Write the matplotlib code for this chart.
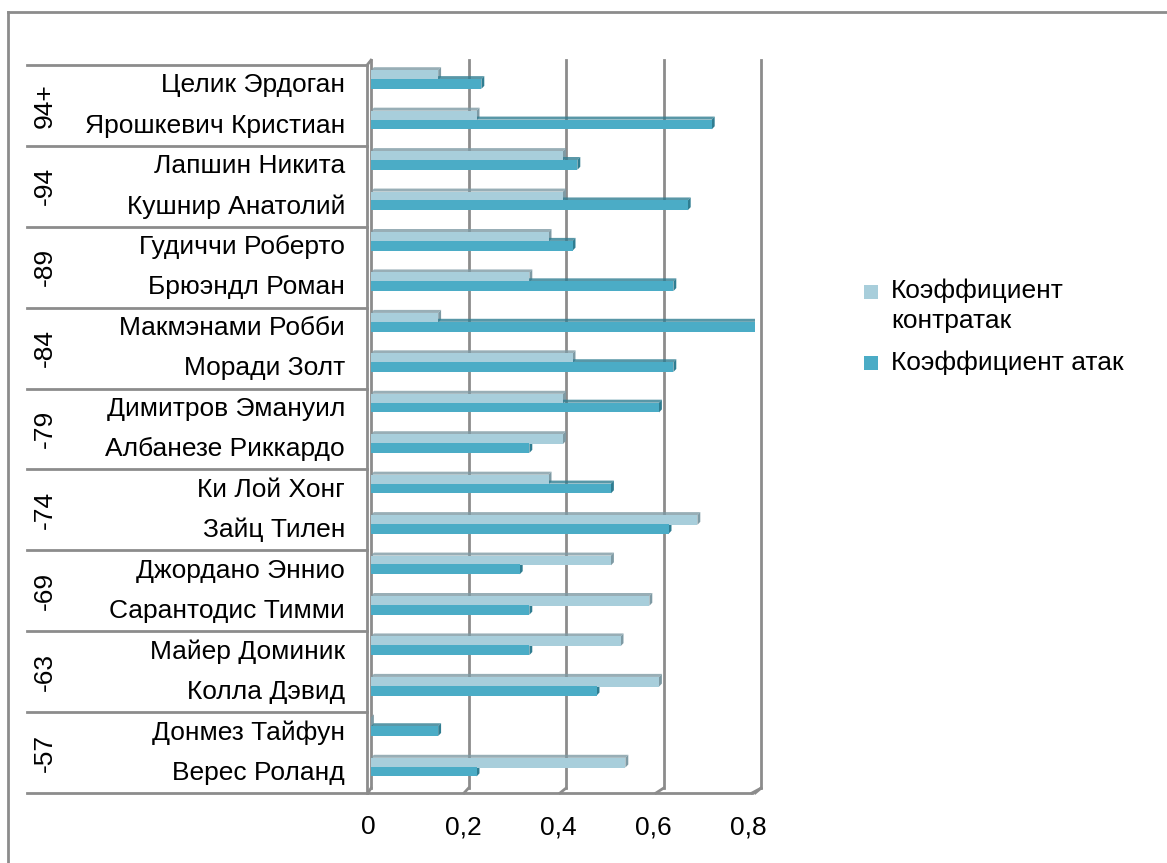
import numpy as np
import matplotlib
matplotlib.use("Agg")
import matplotlib.pyplot as plt
from matplotlib.patches import Polygon, Rectangle
from matplotlib.lines import Line2D

plt.rcParams['font.family'] = ['Liberation Sans', 'DejaVu Sans']

# данные (сверху вниз)
names = ["Целик Эрдоган", "Ярошкевич Кристиан", "Лапшин Никита", "Кушнир Анатолий",
         "Гудиччи Роберто", "Брюэндл Роман", "Макмэнами Робби", "Моради Золт",
         "Димитров Эмануил", "Албанезе Риккардо", "Ки Лой Хонг", "Зайц Тилен",
         "Джордано Эннио", "Сарантодис Тимми", "Майер Доминик", "Колла Дэвид",
         "Донмез Тайфун", "Верес Роланд"]
groups = ["94+", "-94", "-89", "-84", "-79", "-74", "-69", "-63", "-57"]
counter = [0.14, 0.22, 0.40, 0.40, 0.37, 0.33, 0.14, 0.42, 0.40,
           0.40, 0.37, 0.68, 0.50, 0.58, 0.52, 0.60, 0.00, 0.53]
attack = [0.23, 0.71, 0.43, 0.66, 0.42, 0.63, 0.80, 0.63, 0.60,
          0.33, 0.50, 0.62, 0.31, 0.33, 0.33, 0.47, 0.14, 0.22]
series = ["Коэффициент\nконтратак", "Коэффициент атак"]
xticks = [0, 0.2, 0.4, 0.6, 0.8]
xticklabels = ["0", "0,2", "0,4", "0,6", "0,8"]

c_light, c_light_side = "#A8CEDB", "#7E9AA4"
c_dark, c_dark_side = "#4BACC6", "#2F7D91"
grid_c = "#8C8C8C"
FS = 19

W, H = 1167, 863
fig = plt.figure(figsize=(W / 100, H / 100), dpi=100)
ax = fig.add_axes([371 / W, (H - 793) / H, 384 / W, 728 / H])
ax.set_xlim(0, 0.8)
ax.set_ylim(len(names) - 0.5, -0.5)
ax.axis("off")

dx = 0.006   # глубина 3D по x
dy = 0.075   # глубина 3D по y
top_y = -0.62
back_bot = len(names) - 0.5 - 0.12
front_bot = len(names) - 0.5

# сетка (задняя стенка + пол)
for v in xticks:
    xb = v * 390 / 384
    xf = v - 0.00625
    ax.add_line(Line2D([xb, xb], [top_y, back_bot], color=grid_c, lw=2, clip_on=False))
    ax.add_line(Line2D([xb, xf], [back_bot, front_bot], color=grid_c, lw=2, clip_on=False))
ax.add_line(Line2D([-0.00625, 0.8 - 0.00625], [front_bot, front_bot], color=grid_c, lw=2, clip_on=False))
ax.add_line(Line2D([0.8 * 390 / 384 - 0.012, 0.8 * 390 / 384], [front_bot, back_bot],
                   color=grid_c, lw=2, clip_on=False))
# левая стенка
ax.add_line(Line2D([-0.008, -0.008], [-0.5, front_bot], color=grid_c, lw=2, clip_on=False))
ax.add_line(Line2D([-0.008, 0.0], [-0.5, top_y], color=grid_c, lw=2, clip_on=False))

h = 0.24


def bar3d(y, v, face, side):
    if v <= 0:
        ax.add_patch(Polygon([(0, y - h / 2), (dx, y - h / 2 - dy), (dx, y + h / 2 - dy), (0, y + h / 2)],
                             closed=True, facecolor=side, edgecolor="none", zorder=3))
        return
    ax.add_patch(Polygon([(0, y - h / 2), (dx, y - h / 2 - dy), (v + dx, y - h / 2 - dy), (v, y - h / 2)],
                         closed=True, facecolor=side, edgecolor="none", alpha=0.8, zorder=3))
    ax.add_patch(Polygon([(v, y - h / 2), (v + dx, y - h / 2 - dy), (v + dx, y + h / 2 - dy), (v, y + h / 2)],
                         closed=True, facecolor=side, edgecolor="none", zorder=3))
    ax.add_patch(Rectangle((0, y - h / 2), v, h, facecolor=face, edgecolor="none", zorder=4))


for i in range(len(names)):
    bar3d(i - 0.25, counter[i], c_light, c_light_side)
    bar3d(i - 0.03, attack[i], c_dark, c_dark_side)

# подписи оси X (передний край пола)
for v, lab in zip(xticks, xticklabels):
    ax.text(v - 0.00625 - 0.008 * v / 0.8, front_bot + 0.85, lab, ha="center", va="center",
            fontsize=FS, clip_on=False)

# таблица категорий слева
x_left = (27 - 371) / 384 * 0.8
for k in range(len(groups) + 1):
    yy = -0.5 + 2 * k
    ax.add_line(Line2D([x_left, -0.008], [yy, yy], color=grid_c, lw=2, clip_on=False))
for i, n in enumerate(names):
    ax.text((345 - 371) / 384 * 0.8, i, n, ha="right", va="center", fontsize=FS, clip_on=False)
for k, g in enumerate(groups):
    ax.text((45 - 371) / 384 * 0.8, 2 * k + 0.5, g, ha="center", va="center", rotation=90,
            fontsize=FS, clip_on=False)

# легенда
fig.patches.append(Rectangle((864 / W, 1 - 299 / H), 14 / W, 14 / H, transform=fig.transFigure,
                             facecolor=c_light, edgecolor="none"))
fig.text(891 / W, 1 - 306 / H, series[0], ha="left", va="center", fontsize=FS, linespacing=1.3)
fig.patches.append(Rectangle((864 / W, 1 - 370 / H), 14 / W, 14 / H, transform=fig.transFigure,
                             facecolor=c_dark, edgecolor="none"))
fig.text(891 / W, 1 - 363 / H, series[1], ha="left", va="center", fontsize=FS)

# рамка
fig.add_artist(Line2D([8 / W, 8 / W], [0, 1 - 12 / H], transform=fig.transFigure, color=grid_c, lw=2))
fig.add_artist(Line2D([8 / W, 1], [1 - 12 / H, 1 - 12 / H], transform=fig.transFigure, color=grid_c, lw=2))

fig.savefig("out.png", dpi=100, facecolor="white")
